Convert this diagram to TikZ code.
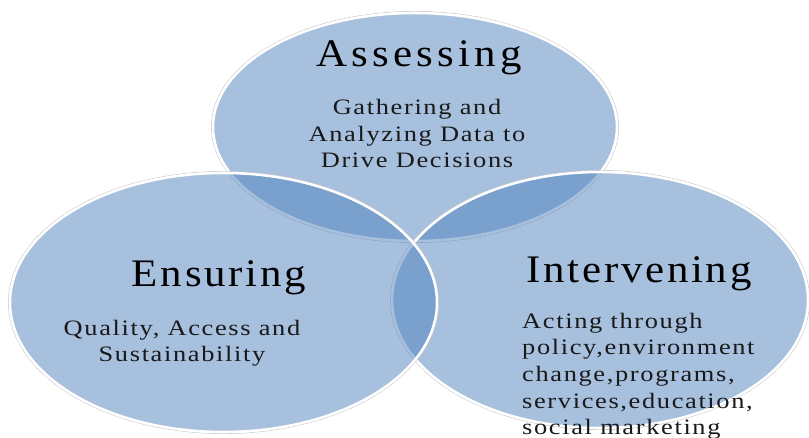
\documentclass[tikz,border=0pt]{standalone}
\usepackage{fontspec}
\setmainfont{Liberation Serif}
\newfontfamily\titlefont[FakeStretch=1.1,LetterSpace=7]{Liberation Serif}
\newfontfamily\titlefontwide[FakeStretch=1.1,LetterSpace=11]{Liberation Serif}
\newfontfamily\bodyfont[FakeStretch=1.2,LetterSpace=7.5]{Liberation Serif}
\begin{document}
\begin{tikzpicture}[x=1pt,y=-1pt,
  bubble/.style={fill={rgb,255:red,79;green,129;blue,189}, fill opacity=0.5},
  rim/.style={draw=white, line width=2.5pt},
  halo/.style={draw=black!22, line width=0.6pt},
  title/.style={font=\titlefont\fontsize{39}{44}\selectfont, inner sep=0pt, anchor=base},
  titlewide/.style={title, font=\titlefontwide\fontsize{39}{44}\selectfont},
  body/.style={font=\bodyfont\fontsize{22}{26.7}\selectfont, inner sep=0pt, anchor=base, text=black!90}]
\useasboundingbox (0,0) rectangle (809,438);
\clip (0,0) rectangle (809,438);
\coordinate (cT) at (415,127);
\coordinate (cR) at (600,300);
\coordinate (cL) at (223.5,302.5);
% top
\path[halo] (cT) ellipse [x radius=203.6pt, y radius=115.6pt];
\path[bubble] (cT) ellipse [x radius=202pt, y radius=114pt];
\path[rim] (cT) ellipse [x radius=202pt, y radius=114pt];
% right
\path[halo] (cR) ellipse [x radius=209.6pt, y radius=129.6pt];
\path[bubble] (cR) ellipse [x radius=208pt, y radius=128pt];
\path[rim] (cR) ellipse [x radius=208pt, y radius=128pt];
% left
\path[halo] (cL) ellipse [x radius=215.1pt, y radius=131.1pt];
\path[bubble] (cL) ellipse [x radius=213.5pt, y radius=129.5pt];
\path[rim] (cL) ellipse [x radius=213.5pt, y radius=129.5pt];
% texts
\node[titlewide] (tA) at (419,67) {Assessing};
\node[body, align=center] (dA) at (417,168) {Gathering and\\Analyzing Data to\\Drive Decisions};
\node[title] (tE) at (219,287) {Ensuring};
\node[body, align=center] (dE) at (182,362) {Quality, Access and\\Sustainability};
\node[title] (tI) at (639,283) {Intervening};
\node[body, align=left, anchor=base west] (dI) at (522,435) {Acting through\\policy,environment\\change,programs,\\services,education,\\social marketing};
\end{tikzpicture}
\end{document}
